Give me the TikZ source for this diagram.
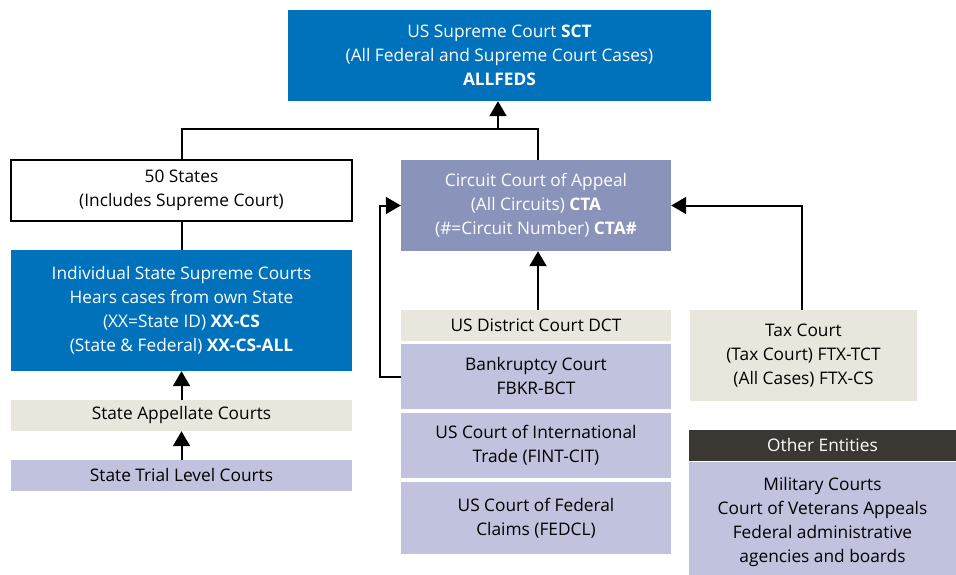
\documentclass[tikz,border=0pt]{standalone}
\usepackage{fontspec}
\setmainfont{Open Sans}
\usetikzlibrary{arrows.meta}
\definecolor{courtblue}{RGB}{0,114,187}
\definecolor{circuitblue}{RGB}{138,147,185}
\definecolor{lavender}{RGB}{192,194,222}
\definecolor{beige}{RGB}{233,231,221}
\definecolor{darkhead}{RGB}{59,56,51}
\tikzset{
  box/.style={inner sep=0pt, align=center, font=\fontsize{17.3}{24}\selectfont},
  bluebox/.style={box, fill=courtblue, text=white},
  circbox/.style={box, fill=circuitblue, text=white},
  lavbox/.style={box, fill=lavender, text=black},
  beigebox/.style={box, fill=beige, text=black},
  whitebox/.style={box, draw=black, line width=1.5pt, fill=white},
  headbox/.style={box, fill=darkhead, text=white},
  link/.style={line width=2pt, draw=black},
  arr/.style={link, -{Triangle[length=15pt,width=17pt]}},
}
% \boxat{name}{style}{x1}{y1}{x2}{y2}{text}: a box filling the given corners
\newcommand{\boxat}[6]{%
  \node[#2, minimum width=#5-#3, minimum height=#6-#4] (#1) at ({(#3+#5)/2},{(#4+#6)/2})}
\begin{document}
\begin{tikzpicture}[x=1pt, y=-1pt]
\useasboundingbox (0,0) rectangle (956,575);

% federal top
\boxat{sct}{bluebox}{288}{10}{711}{101}{US Supreme Court \textbf{SCT}\\(All Federal and Supreme Court Cases)\\\textbf{ALLFEDS}};

% state column
\boxat{states}{whitebox}{11}{160}{352}{221}{50 States\\(Includes Supreme Court)};
\boxat{statesup}{bluebox}{11}{250}{352}{371}{Individual State Supreme Courts\\Hears cases from own State\\(XX=State ID) \textbf{XX-CS}\\(State \& Federal) \textbf{XX-CS-ALL}};
\boxat{appel}{beigebox}{11}{400}{352}{431}{State Appellate Courts};
\boxat{trial}{lavbox}{11}{460}{352}{491}{State Trial Level Courts};

% federal column
\boxat{cta}{circbox}{401}{160}{671}{251}{Circuit Court of Appeal\\(All Circuits) \textbf{CTA}\\(\#=Circuit Number) \textbf{CTA\#}};
\boxat{dct}{beigebox}{401}{310}{671}{341}{US District Court DCT};
\boxat{bank}{lavbox}{401}{344}{671}{409}{Bankruptcy Court\\FBKR-BCT};
\boxat{cit}{lavbox}{401}{413}{671}{478}{US Court of International\\Trade (FINT-CIT)};
\boxat{fedcl}{lavbox}{401}{482}{671}{554}{US Court of Federal\\Claims (FEDCL)};

% tax court and other entities
\boxat{tax}{beigebox}{690}{310}{917}{401}{Tax Court\\(Tax Court) FTX-TCT\\(All Cases) FTX-CS};
\boxat{otherhead}{headbox}{689}{430}{956}{461}{Other Entities};
\boxat{other}{lavbox}{689}{462}{956}{575}{};
\node[box, text=black] (otherlist) at ([yshift=-4pt]other.center) {Military Courts\\Court of Veterans Appeals\\Federal administrative\\agencies and boards};

% connectors
\coordinate (join) at (498,129);
\draw[link] (states.north) |- (join) -| (cta.north -| 538,0);
\draw[arr] (join) -- (sct.south -| join);
\draw[link] (states.south) -- (statesup.north);
\draw[arr] (appel.north) -- (statesup.south);
\draw[arr] (trial.north) -- (appel.south);
\draw[arr] (dct.north -| 538,0) -- (cta.south -| 538,0);
\draw[arr] (bank.west) -- ++(-21,0) |- (cta.west);
\draw[arr] (tax.north -| 802,0) |- (cta.east);
\end{tikzpicture}
\end{document}
